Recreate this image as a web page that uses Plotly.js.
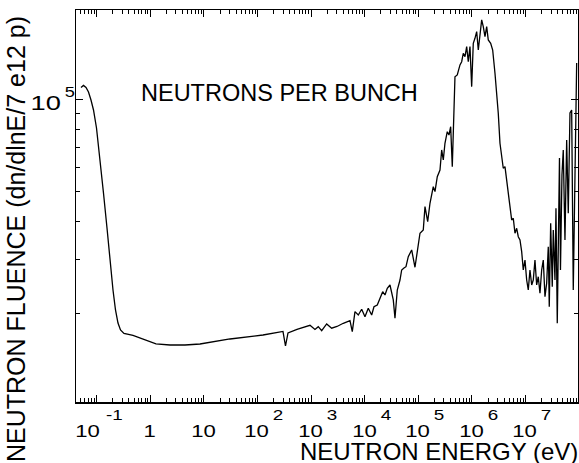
<!DOCTYPE html>
<html>
<head>
<meta charset="utf-8">
<script src="https://cdn.plot.ly/plotly-3.0.1.min.js"></script>
<style>
  html, body { margin: 0; padding: 0; background: #fff; }
  #chart { width: 579px; height: 463px; }
</style>
</head>
<body>
<div id="chart"></div>
<script>
// Neutron energy (eV) and fluence per bunch (dn/dlnE per 7e12 protons)
const energy = [
  0.0509, 0.0567, 0.0632, 0.0703, 0.0783, 0.0872, 0.0992, 0.1152, 0.1339, 0.1557,
  0.177, 0.2014, 0.2243, 0.2497, 0.278, 0.323, 0.4756, 0.731, 1.277, 2.33,
  4.44, 8.46, 30.7, 126.7, 299, 333, 371, 546, 954, 1182,
  1362, 1577, 1954, 2423, 3043, 3988, 4943, 5317, 5870, 6592,
  7598, 8790, 10130, 11670, 13510, 14910, 17180, 19290, 21670, 23920,
  26410, 29650, 34170, 36760, 40580, 45570, 49000, 54100, 58950, 65070,
  75330, 86790, 1.0e5, 1.076e5, 1.24e5, 1.334e5, 1.498e5, 1.653e5, 1.905e5, 2.05e5,
  2.262e5, 2.541e5, 2.733e5, 2.927e5, 3.148e5, 3.475e5, 3.74e5, 4.022e5, 4.31e5, 4.838e5,
  5.34e5, 5.998e5, 6.452e5, 6.912e5, 7.435e5, 7.998e5, 8.567e5, 9.217e5, 9.915e5, 1.062e6,
  1.142e6, 1.229e6, 1.317e6, 1.416e6, 1.524e6, 1.632e6, 1.756e6, 1.889e6, 2.023e6, 2.243e6,
  2.444e6, 2.698e6, 2.902e6, 3.108e6, 3.344e6, 3.597e6, 3.853e6, 4.146e6, 4.46e6, 4.776e6,
  5.139e6, 5.527e6, 5.922e6, 6.37e6, 6.852e6, 7.34e6, 7.898e6, 8.495e6, 9.1e6, 9.788e6,
  1.053e7, 1.128e7, 1.213e7, 1.306e7, 1.398e7, 1.504e7, 1.618e7, 1.733e7, 1.864e7, 2.005e7,
  2.149e7, 2.311e7, 2.486e7, 2.664e7, 2.78e7, 2.952e7, 3.162e7, 3.302e7, 3.55e7, 3.707e7,
  3.92e7, 4.092e7, 4.309e7, 4.498e7, 4.797e7, 5.073e7, 5.457e7, 5.87e7, 6.287e7, 6.765e7,
  7.276e7, 7.795e7, 8.386e7, 9.02e7
];
const fluence = [
  1.099e5, 1.116e5, 1.099e5, 1.062e5, 1.0e5, 9.273e4, 8.095e4, 6.452e4, 4.956e4, 3.805e4,
  2.988e4, 2.382e4, 2.049e4, 1.857e4, 1.762e4, 1.716e4, 1.69e4, 1.646e4, 1.585e4, 1.573e4,
  1.573e4, 1.585e4, 1.646e4, 1.696e4, 1.742e4, 1.561e4, 1.722e4, 1.771e4, 1.825e4, 1.768e4,
  1.806e4, 1.752e4, 1.844e4, 1.785e4, 1.809e4, 1.853e4, 1.878e4, 1.892e4, 1.739e4, 2.023e4,
  1.973e4, 2.06e4, 1.948e4, 2.075e4, 1.973e4, 2.1e4, 2.128e4, 2.238e4, 2.352e4, 2.294e4,
  2.413e4, 2.474e4, 2.21e4, 1.925e4, 2.382e4, 2.569e4, 2.771e4, 2.813e4, 2.841e4, 3.064e4,
  3.223e4, 2.828e4, 3.43e4, 3.656e4, 3.748e4, 4.469e4, 3.99e4, 4.585e4, 5.197e4, 5.005e4,
  5.604e4, 5.895e4, 6.858e4, 6.359e4, 7.211e4, 7.87e4, 7.677e4, 8.175e4, 6.044e4, 1.192e5,
  1.208e5, 1.303e5, 1.335e5, 1.423e5, 1.387e5, 1.496e5, 1.335e5, 1.496e5, 1.106e5, 1.534e5,
  1.593e5, 1.675e5, 1.458e5, 1.655e5, 1.83e5, 1.739e5, 1.612e5, 1.739e5, 1.573e5, 1.534e5,
  1.458e5, 1.223e5, 1.052e5, 9.045e4, 7.211e4, 6.52e4, 5.972e4, 6.044e4, 5.397e4, 4.994e4,
  4.469e4, 4.042e4, 4.094e4, 3.656e4, 3.796e4, 3.563e4, 3.475e4, 3.182e4, 2.771e4, 2.988e4,
  2.569e4, 2.382e4, 2.771e4, 2.474e4, 2.569e4, 2.988e4, 2.474e4, 2.634e4, 2.324e4, 2.771e4,
  2.988e4, 2.265e4, 2.506e4, 3.304e4, 2.1e4, 3.942e4, 2.443e4, 3.748e4, 2.569e4, 4.415e4,
  1.853e4, 3.842e4, 6.452e4, 2.771e4, 5.677e4, 6.858e4, 3.475e4, 7.394e4, 4.251e4, 9.066e4,
  9.273e4, 2.382e4, 6.858e4, 1.322e5
];

// Major tick positions and their labels (mantissa + exponent)
const xTickValues = [0.1, 1, 10, 100, 1e3, 1e4, 1e5, 1e6, 1e7];
const xTickBase = ['10', '1', '10', '10', '10', '10', '10', '10', '10'];
const xTickExp = ['-1', '', '', '2', '3', '4', '5', '6', '7'];
const yTickValues = [1e5];
const yTickBase = ['10'];
const yTickExp = ['5'];

// minor ticks at 2..9 of every decade
function decadeMinors(lo, hi) {
  const out = [];
  for (let d = lo; d <= hi; d++) {
    for (let k = 2; k <= 9; k++) out.push(k * Math.pow(10, d));
  }
  return out;
}

const FONT = 'Liberation Sans, Arial, Helvetica, sans-serif';
const DIGIT_STRETCH = 1.3;   // wide label digits

const trace = {
  x: energy,
  y: fluence,
  type: 'scatter',
  mode: 'lines',
  line: { color: '#000', width: 1.3 },
  hoverinfo: 'x+y'
};

const axisCommon = {
  type: 'log',
  showgrid: false,
  zeroline: false,
  showline: true,
  linecolor: '#000',
  linewidth: 1.5,
  mirror: 'allticks',
  ticks: 'inside',
  ticklen: 7,
  tickwidth: 1,
  tickcolor: '#000',
  tickmode: 'array',
  showticklabels: false
};

// common text box settings: no padding around the glyphs
const tight = { showarrow: false, borderpad: 0, borderwidth: 0 };

// tick labels: mantissa and a raised exponent, placed on the axis scales
const annotations = [];
const stretched = [];
xTickValues.forEach((v, i) => {
  const neg = xTickExp[i].startsWith('-');
  stretched.push(annotations.length);
  annotations.push(Object.assign({
    text: xTickBase[i], xref: 'x', yref: 'paper',
    x: Math.log10(v), y: -0.0765, xanchor: 'center', yanchor: 'middle',
    xshift: neg ? -9 : -0.5,
    font: { family: FONT, size: 17, color: '#000' }
  }, tight));
  if (xTickExp[i]) {
    stretched.push(annotations.length);
    annotations.push(Object.assign({
      text: xTickExp[i], xref: 'x', yref: 'paper',
      x: Math.log10(v), y: -0.0332, xanchor: 'center', yanchor: 'middle',
      xshift: neg ? 18 : 21,
      font: { family: FONT, size: 14.5, color: '#000' }
    }, tight));
  }
});
yTickValues.forEach((v, i) => {
  stretched.push(annotations.length);
  annotations.push(Object.assign({
    text: yTickBase[i], xref: 'paper', yref: 'y',
    x: 0, y: Math.log10(v), xanchor: 'center', yanchor: 'middle',
    xshift: -30.5, yshift: -2.5,
    font: { family: FONT, size: 21, color: '#000' }
  }, tight));
  stretched.push(annotations.length);
  annotations.push(Object.assign({
    text: yTickExp[i], xref: 'paper', yref: 'y',
    x: 0, y: Math.log10(v), xanchor: 'center', yanchor: 'middle',
    xshift: -6, yshift: 8,
    font: { family: FONT, size: 14, color: '#000' }
  }, tight));
});

annotations.push(
  Object.assign({
    text: 'NEUTRONS PER BUNCH',
    xref: 'paper', yref: 'paper',
    x: 0.1295, y: 0.7875, xanchor: 'left', yanchor: 'middle',
    font: { family: FONT, size: 23.5, color: '#000' }
  }, tight),
  Object.assign({
    text: 'NEUTRON ENERGY (eV)',
    xref: 'paper', yref: 'paper',
    x: 1, y: -0.1263, xanchor: 'right', yanchor: 'middle', xshift: 0,
    font: { family: FONT, size: 24, color: '#000' }
  }, tight),
  Object.assign({
    text: 'NEUTRON FLUENCE (dn/dlnE/7 e12 p)',
    xref: 'paper', yref: 'paper',
    x: -0.1205, y: 0.4145, xanchor: 'center', yanchor: 'middle',
    textangle: -90,
    font: { family: FONT, size: 25, color: '#000' }
  }, tight)
);

const layout = {
  width: 579,
  height: 463,
  margin: { l: 76, r: 1, t: 10, b: 61 },
  paper_bgcolor: '#fff',
  plot_bgcolor: '#fff',
  showlegend: false,
  font: { family: FONT, color: '#000' },
  xaxis: Object.assign({}, axisCommon, {
    range: [-1.386, 7.98],
    tickvals: xTickValues,
    minor: {
      tickmode: 'array',
      tickvals: decadeMinors(-2, 7),
      ticks: 'inside', ticklen: 4, tickwidth: 1, tickcolor: '#000', showgrid: false
    }
  }),
  yaxis: Object.assign({}, axisCommon, {
    range: [4.0098, 5.295],
    tickvals: yTickValues,
    minor: {
      tickmode: 'array',
      tickvals: decadeMinors(4, 5),
      ticks: 'inside', ticklen: 4, tickwidth: 1, tickcolor: '#000', showgrid: false
    }
  }),
  annotations: annotations
};

Plotly.newPlot('chart', [trace], layout, { displayModeBar: false, staticPlot: true })
  .then(gd => {
    // widen the digit glyphs of the tick labels about their centres
    gd.querySelectorAll('.annotation').forEach(g => {
      const idx = +g.getAttribute('data-index');
      if (stretched.indexOf(idx) < 0) return;
      const t = g.querySelector('text.annotation-text');
      if (!t) return;
      const w = t.getComputedTextLength();
      t.setAttribute('textLength', (w * DIGIT_STRETCH).toFixed(2));
      t.setAttribute('lengthAdjust', 'spacingAndGlyphs');
    });
  });
</script>
</body>
</html>
